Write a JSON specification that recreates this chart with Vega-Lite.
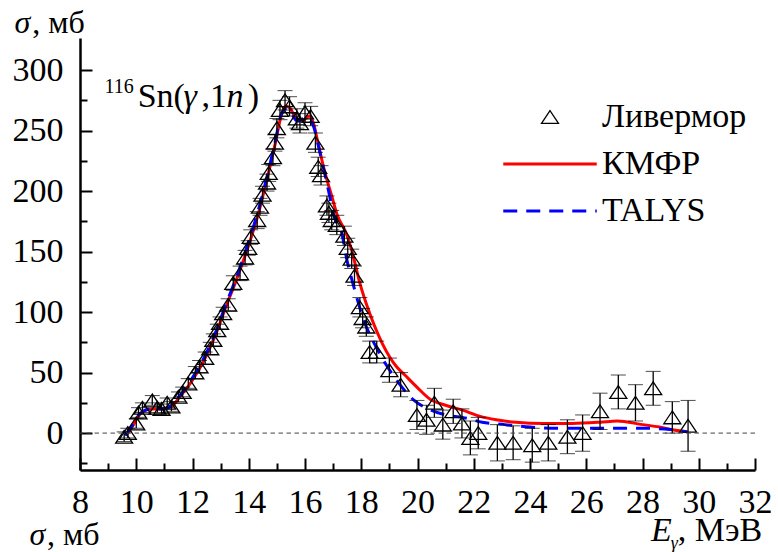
{
  "$schema": "https://vega.github.io/schema/vega-lite/v6.json",
  "width": 675,
  "height": 432,
  "autosize": {"type": "none"},
  "padding": {"left": 80, "top": 38, "right": 23, "bottom": 82},
  "background": "white",
  "config": {"view": {"stroke": null}, "font": "Liberation Serif, Times New Roman, serif"},
  "resolve": {"axis": {"x": "independent", "y": "independent"}},
  "datasets": {
    "liv": [
      {"E": 9.57, "sigma": -3, "err": 4}, {"E": 9.7, "sigma": 0, "err": 4}, {"E": 10.0, "sigma": 8, "err": 4},
      {"E": 10.08, "sigma": 17, "err": 4}, {"E": 10.22, "sigma": 21, "err": 4}, {"E": 10.57, "sigma": 27, "err": 4},
      {"E": 10.75, "sigma": 21, "err": 4}, {"E": 10.9, "sigma": 20, "err": 4}, {"E": 11.1, "sigma": 25, "err": 4},
      {"E": 11.25, "sigma": 22, "err": 4}, {"E": 11.5, "sigma": 30, "err": 4}, {"E": 11.65, "sigma": 34, "err": 4},
      {"E": 11.85, "sigma": 41, "err": 4}, {"E": 12.1, "sigma": 50, "err": 5}, {"E": 12.25, "sigma": 55, "err": 5},
      {"E": 12.45, "sigma": 62, "err": 5}, {"E": 12.63, "sigma": 70, "err": 5}, {"E": 12.74, "sigma": 77, "err": 5},
      {"E": 12.88, "sigma": 85, "err": 5}, {"E": 12.98, "sigma": 91, "err": 5}, {"E": 13.09, "sigma": 99, "err": 5},
      {"E": 13.27, "sigma": 106, "err": 5}, {"E": 13.45, "sigma": 124, "err": 6}, {"E": 13.69, "sigma": 132, "err": 6},
      {"E": 13.87, "sigma": 145, "err": 6}, {"E": 13.98, "sigma": 153, "err": 6}, {"E": 14.07, "sigma": 162, "err": 6},
      {"E": 14.3, "sigma": 176, "err": 7}, {"E": 14.4, "sigma": 187, "err": 7}, {"E": 14.49, "sigma": 197, "err": 7},
      {"E": 14.65, "sigma": 207, "err": 7}, {"E": 14.71, "sigma": 215, "err": 7}, {"E": 14.86, "sigma": 228, "err": 7},
      {"E": 14.93, "sigma": 240, "err": 7}, {"E": 15.0, "sigma": 252, "err": 8}, {"E": 15.11, "sigma": 267, "err": 8},
      {"E": 15.29, "sigma": 275, "err": 8}, {"E": 15.45, "sigma": 270, "err": 8}, {"E": 15.71, "sigma": 260, "err": 8},
      {"E": 15.82, "sigma": 256, "err": 8}, {"E": 16.0, "sigma": 265, "err": 8}, {"E": 16.2, "sigma": 262, "err": 8},
      {"E": 16.37, "sigma": 240, "err": 8}, {"E": 16.47, "sigma": 220, "err": 8}, {"E": 16.57, "sigma": 213, "err": 8},
      {"E": 16.78, "sigma": 188, "err": 8}, {"E": 16.85, "sigma": 182, "err": 8}, {"E": 16.95, "sigma": 176, "err": 8},
      {"E": 17.13, "sigma": 172, "err": 8}, {"E": 17.4, "sigma": 163, "err": 8}, {"E": 17.52, "sigma": 153, "err": 8},
      {"E": 17.66, "sigma": 144, "err": 8}, {"E": 17.76, "sigma": 130, "err": 8}, {"E": 17.95, "sigma": 104, "err": 8},
      {"E": 18.05, "sigma": 95, "err": 8}, {"E": 18.18, "sigma": 88, "err": 8}, {"E": 18.3, "sigma": 67, "err": 9},
      {"E": 18.55, "sigma": 67, "err": 9}, {"E": 19.0, "sigma": 52, "err": 10}, {"E": 19.4, "sigma": 40, "err": 10},
      {"E": 19.98, "sigma": 15, "err": 12}, {"E": 20.32, "sigma": 11, "err": 12}, {"E": 20.6, "sigma": 25, "err": 12},
      {"E": 20.9, "sigma": 7, "err": 12}, {"E": 21.27, "sigma": 18, "err": 10}, {"E": 21.58, "sigma": 8, "err": 12},
      {"E": 21.88, "sigma": -4, "err": 14}, {"E": 22.16, "sigma": 0, "err": 13}, {"E": 22.84, "sigma": -8, "err": 15},
      {"E": 23.4, "sigma": -8, "err": 14}, {"E": 24.08, "sigma": -10, "err": 14}, {"E": 24.65, "sigma": -8, "err": 15},
      {"E": 25.33, "sigma": -3, "err": 14}, {"E": 25.87, "sigma": 0, "err": 15}, {"E": 26.49, "sigma": 18, "err": 15},
      {"E": 27.14, "sigma": 34, "err": 14}, {"E": 27.75, "sigma": 25, "err": 15}, {"E": 28.38, "sigma": 37, "err": 14},
      {"E": 29.06, "sigma": 13, "err": 13}, {"E": 29.62, "sigma": 6, "err": 21}
    ],
    "kmfr": [
      {"E": 9.65, "sigma": -2}, {"E": 9.85, "sigma": 5}, {"E": 10.05, "sigma": 13}, {"E": 10.25, "sigma": 18},
      {"E": 10.55, "sigma": 20}, {"E": 10.95, "sigma": 20}, {"E": 11.25, "sigma": 22}, {"E": 11.55, "sigma": 30},
      {"E": 11.95, "sigma": 42}, {"E": 12.45, "sigma": 62}, {"E": 12.85, "sigma": 83}, {"E": 13.15, "sigma": 102},
      {"E": 13.55, "sigma": 126}, {"E": 13.95, "sigma": 152}, {"E": 14.35, "sigma": 182}, {"E": 14.65, "sigma": 210},
      {"E": 14.95, "sigma": 240}, {"E": 15.15, "sigma": 262}, {"E": 15.3, "sigma": 270}, {"E": 15.45, "sigma": 269},
      {"E": 15.65, "sigma": 261}, {"E": 15.9, "sigma": 258}, {"E": 16.15, "sigma": 262}, {"E": 16.3, "sigma": 256},
      {"E": 16.45, "sigma": 241}, {"E": 16.7, "sigma": 216}, {"E": 16.95, "sigma": 196}, {"E": 17.15, "sigma": 180},
      {"E": 17.45, "sigma": 166}, {"E": 17.65, "sigma": 152}, {"E": 17.95, "sigma": 124}, {"E": 18.3, "sigma": 99},
      {"E": 18.75, "sigma": 74}, {"E": 19.25, "sigma": 55}, {"E": 19.55, "sigma": 48}, {"E": 19.98, "sigma": 38},
      {"E": 20.45, "sigma": 28}, {"E": 21.0, "sigma": 23}, {"E": 21.6, "sigma": 19}, {"E": 22.2, "sigma": 14},
      {"E": 22.8, "sigma": 11}, {"E": 23.5, "sigma": 9}, {"E": 24.5, "sigma": 8}, {"E": 25.5, "sigma": 8},
      {"E": 26.5, "sigma": 9}, {"E": 27.1, "sigma": 10}, {"E": 28.0, "sigma": 7}, {"E": 28.6, "sigma": 5},
      {"E": 29.0, "sigma": 3}, {"E": 29.6, "sigma": 1}
    ],
    "talys": [
      {"E": 9.6, "sigma": -2}, {"E": 9.85, "sigma": 6}, {"E": 10.05, "sigma": 14}, {"E": 10.25, "sigma": 18},
      {"E": 10.55, "sigma": 20}, {"E": 10.95, "sigma": 20}, {"E": 11.25, "sigma": 23}, {"E": 11.55, "sigma": 31},
      {"E": 11.95, "sigma": 44}, {"E": 12.45, "sigma": 64}, {"E": 12.85, "sigma": 85}, {"E": 13.15, "sigma": 104},
      {"E": 13.55, "sigma": 128}, {"E": 13.95, "sigma": 155}, {"E": 14.35, "sigma": 185}, {"E": 14.65, "sigma": 212},
      {"E": 14.95, "sigma": 242}, {"E": 15.15, "sigma": 263}, {"E": 15.35, "sigma": 268}, {"E": 15.5, "sigma": 265},
      {"E": 15.71, "sigma": 258}, {"E": 15.95, "sigma": 260}, {"E": 16.05, "sigma": 261}, {"E": 16.28, "sigma": 255},
      {"E": 16.53, "sigma": 232}, {"E": 16.82, "sigma": 202}, {"E": 17.05, "sigma": 178}, {"E": 17.3, "sigma": 166},
      {"E": 17.49, "sigma": 143}, {"E": 17.7, "sigma": 124}, {"E": 18.05, "sigma": 96}, {"E": 18.65, "sigma": 66},
      {"E": 19.25, "sigma": 44}, {"E": 19.88, "sigma": 27}, {"E": 20.48, "sigma": 19}, {"E": 21.0, "sigma": 15},
      {"E": 21.6, "sigma": 13}, {"E": 22.3, "sigma": 9}, {"E": 23.1, "sigma": 7}, {"E": 24.0, "sigma": 5},
      {"E": 25.0, "sigma": 4}, {"E": 26.0, "sigma": 4}, {"E": 27.0, "sigma": 4}, {"E": 28.0, "sigma": 4},
      {"E": 29.0, "sigma": 3}, {"E": 29.6, "sigma": 1}
    ]
  },
  "layer": [
    {
      "data": {"name": "kmfr"},
      "mark": {"type": "line", "interpolate": "monotone", "strokeWidth": 3},
      "encoding": {
        "x": {
          "field": "E", "type": "quantitative",
          "scale": {"domain": [8, 32], "nice": false, "zero": false},
          "axis": {
            "orient": "bottom", "title": null, "grid": false,
            "values": [8, 10, 12, 14, 16, 18, 20, 22, 24, 26, 28, 30, 32],
            "tickSize": -12, "tickWidth": 2, "tickColor": "black", "domainColor": "black", "domainWidth": 2.5,
            "labelFont": "Liberation Serif, Times New Roman, serif", "labelFontSize": 34, "labelColor": "black", "labelPadding": 27,
            "labelFlush": false, "labelOverlap": false
          }
        },
        "y": {
          "field": "sigma", "type": "quantitative",
          "scale": {"domain": [-30.5, 326.5], "nice": false, "zero": false},
          "axis": {
            "orient": "left", "title": null, "grid": false,
            "values": [0, 50, 100, 150, 200, 250, 300],
            "tickSize": -12, "tickWidth": 2, "tickColor": "black", "domainColor": "black", "domainWidth": 2.5,
            "labelFont": "Liberation Serif, Times New Roman, serif", "labelFontSize": 34, "labelColor": "black", "labelPadding": 29,
            "labelOverlap": false
          }
        },
        "color": {
          "datum": "КМФР", "type": "nominal",
          "scale": {"domain": ["Ливермор", "КМФР", "TALYS"], "range": ["black", "#ff0000", "#0000ff"]},
          "legend": {
            "orient": "none", "legendX": 453, "legendY": 62, "title": null,
            "symbolType": "M-5.5,0H5.5", "symbolSize": 289, "symbolStrokeWidth": 3,
            "labelFont": "Liberation Serif, Times New Roman, serif", "labelFontSize": 34, "labelFontStyle": "normal", "labelColor": "black",
            "labelOffset": 35, "rowPadding": 13, "labelLimit": 400,
            "encode": {
              "symbols": {
                "update": {
                  "shape": {"signal": "datum.value === 'Ливермор' ? 'M0,-0.75L-1,0.75L1,0.75Z' : 'M-5.5,0H5.5'"},
                  "strokeWidth": {"signal": "datum.value === 'Ливермор' ? 1.3 : 3"},
                  "strokeDash": {"signal": "datum.value === 'TALYS' ? [14, 9] : [1, 0]"},
                  "fill": {"value": "transparent"},
                  "stroke": {"signal": "datum.value === 'Ливермор' ? 'black' : (datum.value === 'КМФР' ? '#ff0000' : '#0000ff')"},
                  "opacity": {"value": 1}
                }
              }
            }
          }
        }
      }
    },
    {
      "data": {"name": "talys"},
      "mark": {"type": "line", "interpolate": "monotone", "strokeWidth": 3, "strokeDash": [14, 9]},
      "encoding": {
        "x": {"field": "E", "type": "quantitative", "scale": {"domain": [8, 32], "nice": false, "zero": false}, "axis": null},
        "y": {"field": "sigma", "type": "quantitative", "scale": {"domain": [-30.5, 326.5], "nice": false, "zero": false}, "axis": null},
        "color": {"datum": "TALYS", "type": "nominal"}
      }
    },
    {
      "data": {"name": "liv"},
      "mark": {"type": "errorbar", "ticks": {"size": 15, "color": "black", "strokeWidth": 1.3}, "rule": {"color": "black", "strokeWidth": 1.3}},
      "encoding": {
        "x": {
          "field": "E", "type": "quantitative",
          "scale": {"domain": [8, 32], "nice": false, "zero": false},
          "axis": {
            "orient": "bottom", "title": null, "grid": false, "labels": false, "domain": false,
            "values": [9, 11, 13, 15, 17, 19, 21, 23, 25, 27, 29, 31],
            "tickSize": -7, "tickWidth": 2, "tickColor": "black"
          }
        },
        "y": {
          "field": "sigma", "type": "quantitative",
          "scale": {"domain": [-30.5, 326.5], "nice": false, "zero": false},
          "axis": {
            "orient": "left", "title": null, "grid": false, "labels": false, "domain": false,
            "values": [-25, 25, 75, 125, 175, 225, 275],
            "tickSize": -7, "tickWidth": 2, "tickColor": "black"
          }
        },
        "yError": {"field": "err"}
      }
    },
    {
      "data": {"name": "liv"},
      "mark": {"type": "point", "shape": "M0,-0.75L-1,0.75L1,0.75Z", "size": 289, "filled": false, "strokeWidth": 1.3, "opacity": 1},
      "encoding": {
        "x": {"field": "E", "type": "quantitative", "scale": {"domain": [8, 32], "nice": false, "zero": false}, "axis": null},
        "y": {"field": "sigma", "type": "quantitative", "scale": {"domain": [-30.5, 326.5], "nice": false, "zero": false}, "axis": null},
        "color": {"datum": "Ливермор", "type": "nominal"}
      }
    },
    {
      "data": {"values": [{}]},
      "mark": {"type": "rule", "color": "#444444", "strokeWidth": 1, "strokeDash": [4.5, 3.5]},
      "encoding": {
        "y": {"datum": 0, "type": "quantitative", "scale": {"domain": [-30.5, 326.5], "nice": false, "zero": false}, "axis": null}
      }
    },
    {
      "data": {"values": [{}]},
      "mark": {"type": "text", "font": "Liberation Serif, Times New Roman, serif", "fontSize": 20, "align": "left", "baseline": "alphabetic", "color": "black"},
      "encoding": {
        "x": {"datum": 8.87, "type": "quantitative", "scale": {"domain": [8, 32], "nice": false, "zero": false}, "axis": null},
        "y": {"datum": 281, "type": "quantitative", "scale": {"domain": [-30.5, 326.5], "nice": false, "zero": false}, "axis": null},
        "text": {"value": "116"}
      }
    },
    {
      "data": {"values": [{}]},
      "mark": {"type": "text", "font": "Liberation Serif, Times New Roman, serif", "fontSize": 34, "align": "left", "baseline": "alphabetic", "color": "black"},
      "encoding": {
        "x": {"datum": 10.05, "type": "quantitative", "scale": {"domain": [8, 32], "nice": false, "zero": false}, "axis": null},
        "y": {"datum": 269.5, "type": "quantitative", "scale": {"domain": [-30.5, 326.5], "nice": false, "zero": false}, "axis": null},
        "text": {"value": "Sn("}
      }
    },
    {
      "data": {"values": [{}]},
      "mark": {"type": "text", "font": "Liberation Serif, Times New Roman, serif", "fontSize": 34, "fontStyle": "italic", "align": "left", "baseline": "alphabetic", "color": "black"},
      "encoding": {
        "x": {"datum": 11.68, "type": "quantitative", "scale": {"domain": [8, 32], "nice": false, "zero": false}, "axis": null},
        "y": {"datum": 269.5, "type": "quantitative", "scale": {"domain": [-30.5, 326.5], "nice": false, "zero": false}, "axis": null},
        "text": {"value": "γ"}
      }
    },
    {
      "data": {"values": [{}]},
      "mark": {"type": "text", "font": "Liberation Serif, Times New Roman, serif", "fontSize": 34, "align": "left", "baseline": "alphabetic", "color": "black"},
      "encoding": {
        "x": {"datum": 12.32, "type": "quantitative", "scale": {"domain": [8, 32], "nice": false, "zero": false}, "axis": null},
        "y": {"datum": 269.5, "type": "quantitative", "scale": {"domain": [-30.5, 326.5], "nice": false, "zero": false}, "axis": null},
        "text": {"value": ",1"}
      }
    },
    {
      "data": {"values": [{}]},
      "mark": {"type": "text", "font": "Liberation Serif, Times New Roman, serif", "fontSize": 34, "fontStyle": "italic", "align": "left", "baseline": "alphabetic", "color": "black"},
      "encoding": {
        "x": {"datum": 13.21, "type": "quantitative", "scale": {"domain": [8, 32], "nice": false, "zero": false}, "axis": null},
        "y": {"datum": 269.5, "type": "quantitative", "scale": {"domain": [-30.5, 326.5], "nice": false, "zero": false}, "axis": null},
        "text": {"value": "n"}
      }
    },
    {
      "data": {"values": [{}]},
      "mark": {"type": "text", "font": "Liberation Serif, Times New Roman, serif", "fontSize": 34, "align": "left", "baseline": "alphabetic", "color": "black"},
      "encoding": {
        "x": {"datum": 13.96, "type": "quantitative", "scale": {"domain": [8, 32], "nice": false, "zero": false}, "axis": null},
        "y": {"datum": 269.5, "type": "quantitative", "scale": {"domain": [-30.5, 326.5], "nice": false, "zero": false}, "axis": null},
        "text": {"value": ")"}
      }
    },
    {
      "data": {"values": [{}]},
      "mark": {"type": "text", "font": "Liberation Serif, Times New Roman, serif", "fontSize": 32, "fontStyle": "italic", "align": "left", "baseline": "alphabetic", "color": "black"},
      "encoding": {
        "x": {"datum": 5.67, "type": "quantitative", "scale": {"domain": [8, 32], "nice": false, "zero": false}, "axis": null},
        "y": {"datum": 330.6, "type": "quantitative", "scale": {"domain": [-30.5, 326.5], "nice": false, "zero": false}, "axis": null},
        "text": {"value": "σ"}
      }
    },
    {
      "data": {"values": [{}]},
      "mark": {"type": "text", "font": "Liberation Serif, Times New Roman, serif", "fontSize": 32, "align": "left", "baseline": "alphabetic", "color": "black"},
      "encoding": {
        "x": {"datum": 6.3, "type": "quantitative", "scale": {"domain": [8, 32], "nice": false, "zero": false}, "axis": null},
        "y": {"datum": 330.6, "type": "quantitative", "scale": {"domain": [-30.5, 326.5], "nice": false, "zero": false}, "axis": null},
        "text": {"value": ", мб"}
      }
    },
    {
      "data": {"values": [{}]},
      "mark": {"type": "text", "font": "Liberation Serif, Times New Roman, serif", "fontSize": 32, "fontStyle": "italic", "align": "left", "baseline": "alphabetic", "color": "black"},
      "encoding": {
        "x": {"datum": 6.2, "type": "quantitative", "scale": {"domain": [8, 32], "nice": false, "zero": false}, "axis": null},
        "y": {"datum": -92.2, "type": "quantitative", "scale": {"domain": [-30.5, 326.5], "nice": false, "zero": false}, "axis": null},
        "text": {"value": "σ"}
      }
    },
    {
      "data": {"values": [{}]},
      "mark": {"type": "text", "font": "Liberation Serif, Times New Roman, serif", "fontSize": 32, "align": "left", "baseline": "alphabetic", "color": "black"},
      "encoding": {
        "x": {"datum": 6.83, "type": "quantitative", "scale": {"domain": [8, 32], "nice": false, "zero": false}, "axis": null},
        "y": {"datum": -92.2, "type": "quantitative", "scale": {"domain": [-30.5, 326.5], "nice": false, "zero": false}, "axis": null},
        "text": {"value": ", мб"}
      }
    },
    {
      "data": {"values": [{}]},
      "mark": {"type": "text", "font": "Liberation Serif, Times New Roman, serif", "fontSize": 34, "fontStyle": "italic", "align": "left", "baseline": "alphabetic", "color": "black"},
      "encoding": {
        "x": {"datum": 28.3, "type": "quantitative", "scale": {"domain": [8, 32], "nice": false, "zero": false}, "axis": null},
        "y": {"datum": -89.5, "type": "quantitative", "scale": {"domain": [-30.5, 326.5], "nice": false, "zero": false}, "axis": null},
        "text": {"value": "E"}
      }
    },
    {
      "data": {"values": [{}]},
      "mark": {"type": "text", "font": "Liberation Serif, Times New Roman, serif", "fontSize": 18, "fontStyle": "italic", "align": "left", "baseline": "alphabetic", "color": "black"},
      "encoding": {
        "x": {"datum": 29.0, "type": "quantitative", "scale": {"domain": [8, 32], "nice": false, "zero": false}, "axis": null},
        "y": {"datum": -95.5, "type": "quantitative", "scale": {"domain": [-30.5, 326.5], "nice": false, "zero": false}, "axis": null},
        "text": {"value": "γ"}
      }
    },
    {
      "data": {"values": [{}]},
      "mark": {"type": "text", "font": "Liberation Serif, Times New Roman, serif", "fontSize": 34, "align": "left", "baseline": "alphabetic", "color": "black"},
      "encoding": {
        "x": {"datum": 29.25, "type": "quantitative", "scale": {"domain": [8, 32], "nice": false, "zero": false}, "axis": null},
        "y": {"datum": -89.5, "type": "quantitative", "scale": {"domain": [-30.5, 326.5], "nice": false, "zero": false}, "axis": null},
        "text": {"value": ", МэВ"}
      }
    }
  ]
}
